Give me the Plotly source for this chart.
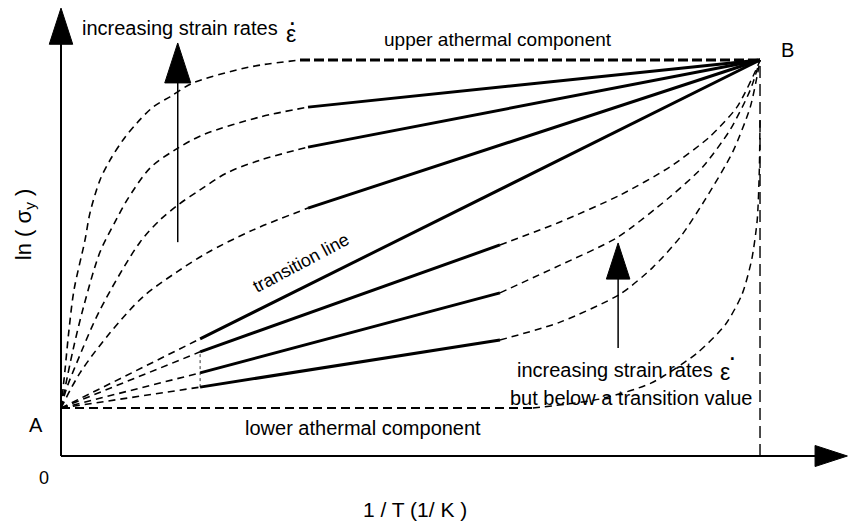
import plotly.graph_objects as go

# ---- schematic data (arbitrary units: 1/T on x, ln(sigma_y) on y) ----
A_x, A_y = 0.0, 12.1
B_x, B_y = 100.0, 100.0

# dashed curves rising from A (high strain rates)
hi1_x = [0, 0.57, 1.14, 1.86, 3.43, 4.15, 5.58, 7.01, 8.87, 10.87, 13.16, 15.59, 18.88, 25.18, 28.47, 34.19]
hi1_y = [12.1, 21.7, 31.8, 41.9, 54.5, 61.4, 69.7, 74.7, 79.8, 84.1, 88.1, 90.7, 94.2, 97.5, 98.7, 100.0]
hi2_x = [0, 1.72, 3.29, 5.58, 7.73, 9.44, 12.73, 16.31, 20.31, 28.47, 35.34]
hi2_y = [12.1, 26.8, 38.1, 51.5, 59.1, 64.6, 72.7, 77.3, 81.1, 85.6, 88.1]
hi3_x = [0, 0.72, 2.29, 5.58, 11.30, 14.16, 16.74, 19.89, 23.75, 28.47, 35.34]
hi3_y = [12.1, 16.7, 23.7, 36.9, 54.0, 59.6, 63.4, 67.2, 71.5, 74.7, 78.0]
hi4_x = [0, 2.72, 7.01, 11.73, 16.6, 20.9, 27.5, 35.34]
hi4_y = [12.1, 21.0, 31.1, 40.2, 46.5, 51.3, 57.1, 62.6]

# straight solid segments ending at B
up_start_x = [35.34, 35.34, 35.34]
up_start_y = [88.1, 78.0, 62.6]

# transition line A -> B (dashed up to split, solid after)
trans_split_x, trans_split_y = 19.9, 29.6

# lower strain rates: solid segments
lo_start_x = [19.9, 19.9, 19.9]
lo_start_y = [26.3, 21.0, 17.4]
lo_end_x = [62.8, 62.8, 62.8]
lo_end_y = [53.3, 41.2, 29.3]

# dashed curves from the solid ends up to B
lo1_x = [62.8, 71.4, 80.0, 87.1, 92.8, 96.7, 99.6, 100.0]
lo1_y = [53.3, 59.1, 65.9, 73.0, 80.6, 88.1, 98.2, 100.0]
lo2_x = [62.8, 71.4, 79.5, 87.1, 91.8, 95.7, 98.6, 100.0]
lo2_y = [41.2, 48.2, 55.1, 65.4, 73.0, 82.3, 92.4, 100.0]
lo3_x = [62.8, 71.4, 80.0, 84.7, 88.6, 92.1, 96.1, 98.6, 99.7, 100.0]
lo3_y = [29.3, 33.8, 40.9, 47.7, 55.3, 64.6, 76.8, 88.1, 97.0, 100.0]
lo4_x = [67.5, 77.1, 84.4, 91.0, 95.0, 97.4, 98.8, 99.6, 99.9, 100.0]
lo4_y = [12.1, 14.4, 18.4, 26.0, 33.1, 40.7, 49.5, 59.6, 72.2, 85.0]

lower_athermal_end_x = 67.5
upper_athermal_start_x = 34.19

# arrows: (x, y_from, y_tip)
arrow_hi = (16.7, 54.0, 104.3)
arrow_lo = (79.7, 27.3, 53.8)
yaxis_tip = 113.1
xaxis_tip = 112.5

FONT = "Arial, 'Liberation Sans', sans-serif"
BLK = "#000000"
DASH = "7px,5px"

fig = go.Figure()

def line(x, y, width=1.5, dash=None, shape="linear", smoothing=1.0):
    fig.add_trace(go.Scatter(x=x, y=y, mode="lines",
                             line=dict(color=BLK, width=width, dash=dash, shape=shape,
                                       smoothing=smoothing if shape == "spline" else None),
                             hoverinfo="skip", showlegend=False))

# axes
line([0, 0], [0, yaxis_tip - 6], width=2)
line([0, xaxis_tip - 3], [0, 0], width=2)

# athermal components
line([A_x, lower_athermal_end_x], [A_y, A_y], width=2, dash="9px,5px")
line([upper_athermal_start_x, B_x], [B_y, B_y], width=3, dash="10px,4px")
line([B_x, B_x], [0, B_y], width=1.4, dash="12px,6px")

# high-rate curves
for cx, cy in [(hi1_x, hi1_y), (hi2_x, hi2_y), (hi3_x, hi3_y), (hi4_x, hi4_y)]:
    line(cx, cy, width=1.6, dash=DASH, shape="spline", smoothing=0.9)
for sx, sy in zip(up_start_x, up_start_y):
    line([sx, B_x], [sy, B_y], width=3)

# transition line
line([A_x, trans_split_x], [A_y, trans_split_y], width=1.6, dash=DASH)
line([trans_split_x, B_x], [trans_split_y, B_y], width=3)

# lower strain rates
for sx, sy, ex, ey in zip(lo_start_x, lo_start_y, lo_end_x, lo_end_y):
    line([A_x, sx], [A_y, sy], width=1.6, dash=DASH)
    line([sx, ex], [sy, ey], width=3)
line([lo_start_x[0], lo_start_x[0]], [lo_start_y[2], lo_start_y[0]], width=0.8, dash="dot")
for cx, cy in [(lo1_x, lo1_y), (lo2_x, lo2_y), (lo3_x, lo3_y), (lo4_x, lo4_y)]:
    line(cx, cy, width=1.5, dash=DASH, shape="spline", smoothing=0.7)

# arrow shafts
line([arrow_hi[0]] * 2, [arrow_hi[1], arrow_hi[2] - 6], width=1.5)
line([arrow_lo[0]] * 2, [arrow_lo[1], arrow_lo[2] - 5], width=1.5)

# arrow heads (markers)
fig.add_trace(go.Scatter(
    x=[0, xaxis_tip, arrow_hi[0], arrow_lo[0]],
    y=[yaxis_tip, 0, arrow_hi[2], arrow_lo[2]],
    mode="markers",
    marker=dict(symbol="arrow", size=[38, 34, 42, 38], angle=[0, 90, 0, 0],
                color=BLK, opacity=1, line=dict(width=1, color=BLK)),
    opacity=1,
    hoverinfo="skip", showlegend=False))

def text(x, y, s, size=19, angle=0, xanchor="center"):
    fig.add_annotation(x=x, y=y, text=s, showarrow=False, textangle=angle,
                       xanchor=xanchor, yanchor="middle",
                       font=dict(family=FONT, size=size, color=BLK))

text(17.0, 108.1, "increasing strain rates", size=20)
text(32.9, 106.6, "ε", size=23)
text(33.1, 109.6, "·", size=26)
text(62.5, 105.1, "upper athermal component", size=19)
text(103.9, 102.5, "B", size=20)
text(-3.6, 7.8, "A", size=20)
text(-2.4, -5.6, "0", size=18)
text(43.2, 7.1, "lower athermal component", size=20)
text(50.6, -13.6, "1 / T (1/ K )", size=21)
text(-5.15, 58.3, "ln ( σ<sub>y</sub> )", size=22, angle=-90)
text(34.3, 48.7, "transition line", size=18, angle=-28)
text(79.3, 21.7, "increasing strain rates", size=20)
text(95.0, 21.2, "ε", size=23)
text(96.1, 25.0, "·", size=26)
text(81.5, 14.6, "but below a transition value", size=20)

fig.update_layout(
    width=849, height=525,
    margin=dict(l=0, r=0, t=0, b=0),
    paper_bgcolor="white", plot_bgcolor="white",
    xaxis=dict(range=[-8.727, 112.73], visible=False, fixedrange=True),
    yaxis=dict(range=[-17.42, 115.15], visible=False, fixedrange=True),
    showlegend=False,
)

fig.write_html("out.html")
